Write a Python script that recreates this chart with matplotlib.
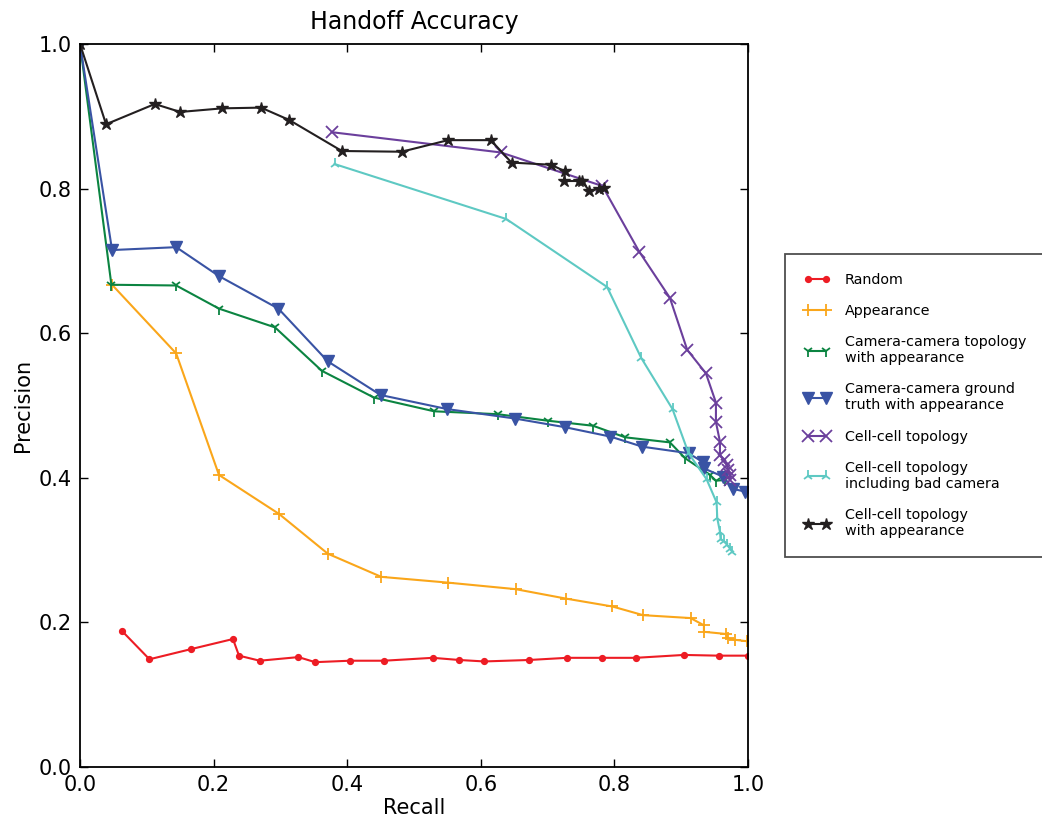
import matplotlib
matplotlib.use("Agg")
import matplotlib.pyplot as plt

# ---- data ----
random_x = [0.063, 0.104, 0.166, 0.229, 0.238, 0.269, 0.327, 0.352, 0.404, 0.455, 0.528, 0.568, 0.605, 0.672, 0.729, 0.781, 0.832, 0.904, 0.956, 1.0]
random_y = [0.188, 0.149, 0.163, 0.177, 0.154, 0.147, 0.152, 0.145, 0.147, 0.147, 0.151, 0.148, 0.146, 0.148, 0.151, 0.151, 0.151, 0.155, 0.154, 0.154]

app_x = [0.048, 0.144, 0.208, 0.298, 0.371, 0.451, 0.551, 0.652, 0.727, 0.797, 0.843, 0.914, 0.934, 0.934, 0.967, 0.970, 0.980, 0.998]
app_y = [0.667, 0.572, 0.404, 0.350, 0.295, 0.263, 0.255, 0.246, 0.233, 0.222, 0.210, 0.206, 0.196, 0.187, 0.184, 0.178, 0.176, 0.174]

cct_x = [0.0, 0.047, 0.144, 0.208, 0.292, 0.362, 0.440, 0.530, 0.625, 0.700, 0.768, 0.816, 0.883, 0.906, 0.943, 0.952, 0.966]
cct_y = [1.0, 0.667, 0.666, 0.634, 0.608, 0.548, 0.511, 0.492, 0.488, 0.479, 0.472, 0.456, 0.449, 0.427, 0.404, 0.396, 0.397]

ccg_x = [0.0, 0.048, 0.144, 0.208, 0.297, 0.371, 0.450, 0.550, 0.651, 0.726, 0.794, 0.842, 0.911, 0.932, 0.934, 0.963, 0.978, 0.9955]
ccg_y = [1.0, 0.715, 0.719, 0.679, 0.634, 0.561, 0.5145, 0.495, 0.482, 0.470, 0.457, 0.443, 0.434, 0.422, 0.413, 0.4015, 0.3845, 0.381]

cell_x = [0.377, 0.630, 0.782, 0.837, 0.883, 0.909, 0.937, 0.952, 0.952, 0.958, 0.958, 0.964, 0.968, 0.9705, 0.973, 0.973]
cell_y = [0.878, 0.850, 0.8036, 0.713, 0.649, 0.577, 0.5445, 0.504, 0.477, 0.450, 0.4315, 0.425, 0.418, 0.411, 0.404, 0.397]

bad_x = [0.381, 0.638, 0.789, 0.840, 0.887, 0.911, 0.938, 0.953, 0.954, 0.958, 0.959, 0.964, 0.969, 0.973, 0.976]
bad_y = [0.834, 0.758, 0.664, 0.566, 0.495, 0.434, 0.398, 0.366, 0.344, 0.3255, 0.315, 0.312, 0.307, 0.302, 0.298]

cellapp_x = [0.0, 0.039, 0.112, 0.150, 0.213, 0.271, 0.313, 0.392, 0.4815, 0.551, 0.615, 0.646, 0.705, 0.726, 0.725, 0.7475, 0.751, 0.7625, 0.7775, 0.784]
cellapp_y = [1.0, 0.889, 0.917, 0.906, 0.911, 0.912, 0.895, 0.852, 0.851, 0.867, 0.867, 0.836, 0.833, 0.824, 0.8105, 0.8105, 0.8105, 0.797, 0.800, 0.801]

labels = ["Random", "Appearance", "Camera-camera topology\nwith appearance",
          "Camera-camera ground\ntruth with appearance", "Cell-cell topology",
          "Cell-cell topology\nincluding bad camera", "Cell-cell topology\nwith appearance"]
ticks = [0.0, 0.2, 0.4, 0.6, 0.8, 1.0]
tick_labels = ["0.0", "0.2", "0.4", "0.6", "0.8", "1.0"]

plt.rcParams['font.family'] = ['DejaVu Sans']

fig = plt.figure(figsize=(10.42, 8.18), dpi=100)
ax = fig.add_axes([80/1042, 51/818, 668/1042, 723/818])

series = [
    (random_x, random_y, '#ed1c24', 'o', 4, 1.2),
    (app_x, app_y, '#faa61a', '+', 9, 1.3),
    (cct_x, cct_y, '#0b8441', '1', 8, 1.3),
    (ccg_x, ccg_y, '#3953a4', 'v', 9, 1.0),
    (cell_x, cell_y, '#6b3f9c', 'x', 8, 1.3),
    (bad_x, bad_y, '#5ec9c3', '2', 8, 1.3),
    (cellapp_x, cellapp_y, '#231f20', '*', 9, 1.0),
]
for (xs, ys, c, m, ms, mew), lab in zip(series, labels):
    ax.plot(xs, ys, color=c, marker=m, markersize=ms, markeredgewidth=mew,
            markeredgecolor=c, markerfacecolor=c, linewidth=1.5, label=lab)

ax.set_xlim(0, 1)
ax.set_ylim(0, 1)
ax.set_xticks(ticks)
ax.set_xticklabels(tick_labels)
ax.set_yticks(ticks)
ax.set_yticklabels(tick_labels)
ax.tick_params(direction='in', top=True, right=True, length=6, width=1,
               labelsize=15, pad=6)
for s in ax.spines.values():
    s.set_linewidth(1.3)
ax.set_title("Handoff Accuracy", fontsize=17, pad=11)
ax.set_xlabel("Recall", fontsize=15, labelpad=2)
ax.set_ylabel("Precision", fontsize=15, labelpad=4)

leg = fig.legend(loc='upper left', bbox_to_anchor=(785/1042, 1 - 254/818),
                 fontsize=10.3, numpoints=2, handlelength=1.9,
                 borderpad=1.3, labelspacing=1.2, handletextpad=1.0,
                 fancybox=False, frameon=True, borderaxespad=0)
leg.get_frame().set_edgecolor('#222222')
leg.get_frame().set_linewidth(1.3)

fig.savefig("out.png", dpi=100)
